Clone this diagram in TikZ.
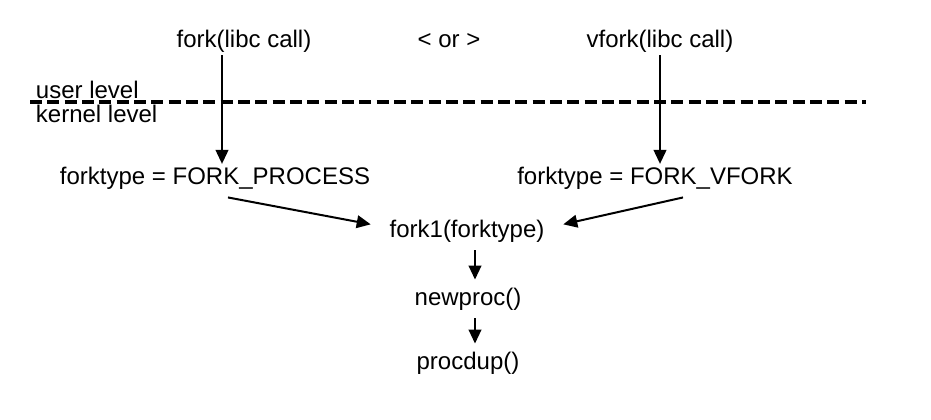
\documentclass[tikz,border=0pt]{standalone}
\usepackage{fontspec}
\setmainfont{Liberation Sans}
\usetikzlibrary{arrows.meta}

\begin{document}
\begin{tikzpicture}[x=0.75pt, y=-0.75pt,
  every node/.style={font=\fontsize{18}{22}\selectfont, inner sep=2pt},
  arr/.style={line width=1.5pt, -{Triangle[length=10.5pt,width=9.5pt]}}]
\useasboundingbox (0,0) rectangle (931,419);

\node (fork) at (244,41) {fork(libc call)};
\node (or) at (449,41) {< or >};
\node (vfork) at (660,41) {vfork(libc call)};

\node [anchor=west] (user) at (33,90) {user level};
\node [anchor=west] (kernel) at (33,114) {kernel level};
\draw [line width=3pt, dash pattern=on 9pt off 4pt] (30,102) -- (866,102);

\node (fp) at (215,178) {forktype = FORK\_PROCESS};
\node (fv) at (655,178) {forktype = FORK\_VFORK};

\node (fone) at (467,231) {fork1(forktype)};
\node (newproc) at (468,299) {newproc()};
\node (procdup) at (468,363) {procdup()};

\draw[arr] ([xshift=-16.5pt]fork.south) -- ([xshift=5.25pt]fp.north);
\draw[arr] (vfork.south) -- ([xshift=3.75pt]fv.north);

\draw[arr] ([xshift=9.75pt, yshift=-4pt]fp.south) -- ([xshift=-12pt, yshift=5pt]fone.west);
\draw[arr] ([xshift=21pt, yshift=-4pt]fv.south) -- ([xshift=12pt, yshift=5pt]fone.east);

\draw[arr] ([xshift=6pt, yshift=-4pt]fone.south) -- ([xshift=5.25pt, yshift=4pt]newproc.north);
\draw[arr] ([xshift=5.25pt, yshift=-4pt]newproc.south) -- ([xshift=5.25pt, yshift=4pt]procdup.north);
\end{tikzpicture}
\end{document}
